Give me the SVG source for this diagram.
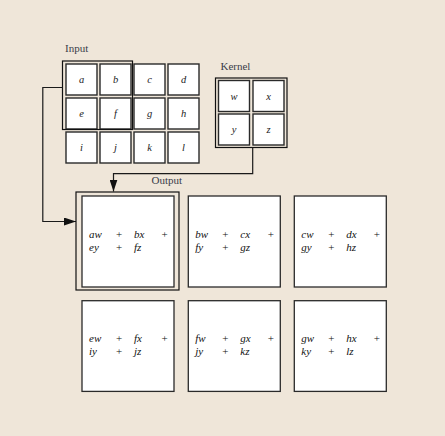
<svg xmlns="http://www.w3.org/2000/svg" width="445" height="436" viewBox="0 0 445 436">
<defs>
<style>
.cell{fill:#fff;stroke:#2a2a2a;stroke-width:1.4}
.hl{fill:none;stroke:#111;stroke-width:1.2}
.box{fill:#fff;stroke:#2a2a2a;stroke-width:1.3}
.lbl{font-family:"Liberation Serif",serif;font-size:11px;fill:#3a3d4a}
.v{font-family:"Liberation Serif",serif;font-style:italic;font-size:10.5px;fill:#222;text-anchor:middle}
.t{font-family:"Liberation Serif",serif;font-style:italic;font-size:11px;fill:#111}
.p{font-family:"Liberation Serif",serif;font-size:11px;fill:#111;text-anchor:middle}
.con{fill:none;stroke:#1a1a1a;stroke-width:1.2}
</style>
<marker id="ah" viewBox="0 0 12 8" refX="12" refY="4" markerWidth="12" markerHeight="8" markerUnits="userSpaceOnUse" orient="auto">
<path d="M0,0 L12,4 L0,8 Z" fill="#111"/>
</marker>
</defs>
<rect width="445" height="436" fill="#efe6d9"/>

<g id="input">
<text class="lbl" x="65" y="52">Input</text>
<rect class="cell" x="66" y="64" width="31" height="31"/><text class="v" x="81.5" y="83">a</text>
<rect class="cell" x="100" y="64" width="31" height="31"/><text class="v" x="115.5" y="83">b</text>
<rect class="cell" x="134" y="64" width="31" height="31"/><text class="v" x="149.5" y="83">c</text>
<rect class="cell" x="168" y="64" width="31" height="31"/><text class="v" x="183.5" y="83">d</text>
<rect class="cell" x="66" y="98" width="31" height="31"/><text class="v" x="81.5" y="117">e</text>
<rect class="cell" x="100" y="98" width="31" height="31"/><text class="v" x="115.5" y="117">f</text>
<rect class="cell" x="134" y="98" width="31" height="31"/><text class="v" x="149.5" y="117">g</text>
<rect class="cell" x="168" y="98" width="31" height="31"/><text class="v" x="183.5" y="117">h</text>
<rect class="cell" x="66" y="132" width="31" height="31"/><text class="v" x="81.5" y="151">i</text>
<rect class="cell" x="100" y="132" width="31" height="31"/><text class="v" x="115.5" y="151">j</text>
<rect class="cell" x="134" y="132" width="31" height="31"/><text class="v" x="149.5" y="151">k</text>
<rect class="cell" x="168" y="132" width="31" height="31"/><text class="v" x="183.5" y="151">l</text>
<rect class="hl" x="62.5" y="61" width="70" height="68.5"/>
</g>

<g id="kernel">
<text class="lbl" x="220.5" y="70">Kernel</text>
<rect class="hl" x="215.5" y="78" width="71.5" height="69.5"/>
<rect class="cell" x="218.5" y="80.5" width="31" height="31"/><text class="v" x="234" y="99.5">w</text>
<rect class="cell" x="253" y="80.5" width="31" height="31"/><text class="v" x="268.5" y="99.5">x</text>
<rect class="cell" x="218.5" y="114" width="31" height="31"/><text class="v" x="234" y="133">y</text>
<rect class="cell" x="253" y="114" width="31" height="31"/><text class="v" x="268.5" y="133">z</text>
</g>

<g id="connectors">
<polyline class="con" points="62.5,87.5 42.8,87.5 42.8,221.5 76,221.5" marker-end="url(#ah)"/>
<polyline class="con" points="252.7,147.5 252.7,173.7 113.5,173.7 113.5,191.5" marker-end="url(#ah)"/>
</g>

<text class="lbl" x="151.5" y="183.5">Output</text>

<g id="out-aw">
<rect class="hl" x="76" y="192" width="103" height="98"/>
<rect class="box" x="82" y="196" width="92" height="91"/>
<text class="t" x="89" y="237.5">aw</text><text class="p" x="119" y="237.5">+</text><text class="t" x="134" y="237.5">bx</text><text class="p" x="164.5" y="237.5">+</text>
<text class="t" x="89" y="250.5">ey</text><text class="p" x="119" y="250.5">+</text><text class="t" x="134" y="250.5">fz</text>
</g>
<g id="out-bw">
<rect class="box" x="188.3" y="196" width="92" height="91"/>
<text class="t" x="195.3" y="237.5">bw</text><text class="p" x="225.3" y="237.5">+</text><text class="t" x="240.3" y="237.5">cx</text><text class="p" x="270.8" y="237.5">+</text>
<text class="t" x="195.3" y="250.5">fy</text><text class="p" x="225.3" y="250.5">+</text><text class="t" x="240.3" y="250.5">gz</text>
</g>
<g id="out-cw">
<rect class="box" x="294.3" y="196" width="92" height="91"/>
<text class="t" x="301.3" y="237.5">cw</text><text class="p" x="331.3" y="237.5">+</text><text class="t" x="346.3" y="237.5">dx</text><text class="p" x="376.8" y="237.5">+</text>
<text class="t" x="301.3" y="250.5">gy</text><text class="p" x="331.3" y="250.5">+</text><text class="t" x="346.3" y="250.5">hz</text>
</g>
<g id="out-ew">
<rect class="box" x="82" y="300.7" width="92" height="90.7"/>
<text class="t" x="89" y="342">ew</text><text class="p" x="119" y="342">+</text><text class="t" x="134" y="342">fx</text><text class="p" x="164.5" y="342">+</text>
<text class="t" x="89" y="355">iy</text><text class="p" x="119" y="355">+</text><text class="t" x="134" y="355">jz</text>
</g>
<g id="out-fw">
<rect class="box" x="188.3" y="300.7" width="92" height="90.7"/>
<text class="t" x="195.3" y="342">fw</text><text class="p" x="225.3" y="342">+</text><text class="t" x="240.3" y="342">gx</text><text class="p" x="270.8" y="342">+</text>
<text class="t" x="195.3" y="355">jy</text><text class="p" x="225.3" y="355">+</text><text class="t" x="240.3" y="355">kz</text>
</g>
<g id="out-gw">
<rect class="box" x="294.3" y="300.7" width="92" height="90.7"/>
<text class="t" x="301.3" y="342">gw</text><text class="p" x="331.3" y="342">+</text><text class="t" x="346.3" y="342">hx</text><text class="p" x="376.8" y="342">+</text>
<text class="t" x="301.3" y="355">ky</text><text class="p" x="331.3" y="355">+</text><text class="t" x="346.3" y="355">lz</text>
</g>
</svg>
